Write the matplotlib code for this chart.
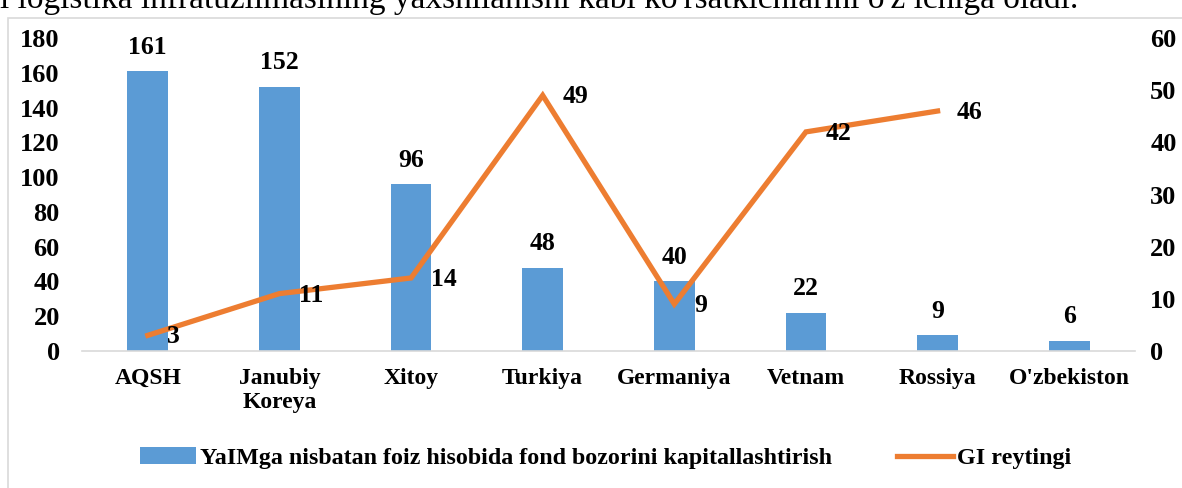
import numpy as np
import matplotlib.pyplot as plt
from matplotlib.lines import Line2D
from matplotlib.patches import Patch, Rectangle

categories = ["AQSH", "Janubiy\nKoreya", "Xitoy", "Turkiya", "Germaniya",
              "Vetnam", "Rossiya", "O'zbekiston"]
market_cap = [161, 152, 96, 48, 40, 22, 9, 6]
gi_rating = [3, 11, 14, 49, 9, 42, 46, np.nan]

bar_label = "YaIMga nisbatan foiz hisobida fond bozorini kapitallashtirish"
line_label = "GI reytingi"
top_text = "i logistika infratuzilmasining yaxshilanishi kabi ko'rsatkichlarini o'z ichiga oladi."

BLUE = "#5B9BD5"
ORANGE = "#ED7D31"
FONT = "Liberation Serif"
FS = 17
FS_TICK = 19
FS_DATA = 18.5

plt.rcParams["font.family"] = FONT
plt.rcParams["font.weight"] = "bold"

fig = plt.figure(figsize=(11.82, 4.88), dpi=100)

# chart frame
fig.patches.append(Rectangle((8 / 1182, -0.1), 1.2, 1 - 18 / 488 + 0.1,
                             transform=fig.transFigure, fill=False,
                             edgecolor="#D9D9D9", linewidth=1.2))
# cut-off document text above the chart
fig.text(0.0, 1 + 1 / 488, top_text, fontsize=24, fontweight="normal",
         fontfamily=FONT, va="center", ha="left")

ax = fig.add_axes([82 / 1182, 137 / 488, 1053 / 1182, 313 / 488])
x = np.arange(len(categories))
ax.bar(x, market_cap, width=0.31, color=BLUE)
ax.set_xlim(-0.5, len(categories) - 0.5)
ax.set_ylim(0, 180)
ax.set_yticks(range(0, 181, 20))
ax.set_xticks(x)
ax.set_xticklabels(categories, fontsize=FS, fontweight="bold", linespacing=1.2)

for xi, v in zip(x, market_cap):
    ax.annotate(str(v), (xi, v), xytext=(0, 9), textcoords="offset points",
                ha="center", va="bottom", fontsize=FS_DATA, fontweight="bold")

ax2 = ax.twinx()
ax2.plot(x, gi_rating, color=ORANGE, linewidth=3.8, solid_joinstyle="miter")
ax2.set_ylim(0, 60)
ax2.set_yticks(range(0, 61, 10))
for xi, v in zip(x, gi_rating):
    if not np.isnan(v):
        ax2.annotate(str(int(v)), (xi, v), xytext=(14, -1),
                     textcoords="offset points", ha="left", va="center",
                     fontsize=FS_DATA, fontweight="bold")

for a in (ax, ax2):
    for s in a.spines.values():
        s.set_visible(False)
    a.tick_params(length=0, labelsize=FS_TICK)
ax.spines["bottom"].set_visible(True)
ax.spines["bottom"].set_color("#D9D9D9")
ax.spines["bottom"].set_linewidth(1.2)
ax.tick_params(axis="y", pad=16)
ax.tick_params(axis="x", pad=12, labelsize=FS)
ax2.tick_params(axis="y", pad=11)

handles = [Patch(facecolor=BLUE), Line2D([0], [0], color=ORANGE, linewidth=3.8)]
fig.legend(handles, [bar_label, line_label], loc="center",
           bbox_to_anchor=(606 / 1182, 1 - 458 / 488), ncol=2, frameon=False,
           prop={"family": FONT, "weight": "bold", "size": 17.3},
           handlelength=2.3, handletextpad=0.2, columnspacing=2.7)

fig.savefig("out.png", dpi=100)
